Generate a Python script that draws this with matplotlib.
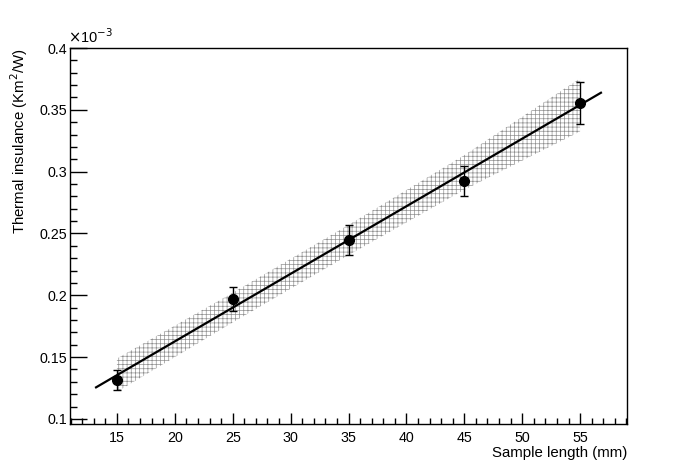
import matplotlib
matplotlib.use("Agg")
import matplotlib.pyplot as plt
import numpy as np
from matplotlib.ticker import MultipleLocator, FormatStrFormatter

plt.rcParams['font.family'] = ['Liberation Sans', 'DejaVu Sans']
plt.rcParams['hatch.linewidth'] = 0.5

# data (thermal insulance in units of 1e-3 K m^2/W)
length_mm = [15, 25, 35, 45, 55]
insulance = [0.1315, 0.1970, 0.2447, 0.2924, 0.3555]
insulance_err = [0.0077, 0.0097, 0.0125, 0.0122, 0.0166]

# linear fit
fit_intercept = 0.0534
fit_slope = 0.005465
fit_range = [13.2, 56.8]

# confidence band half-width at each sample length
band_half = [0.0135, 0.0120, 0.0122, 0.0140, 0.0215]

fig = plt.figure(figsize=(6.96, 4.72), dpi=100)
ax = fig.add_axes([70 / 696, 48 / 472, 557 / 696, 376 / 472])

xb = np.array(length_mm, dtype=float)
yb = fit_intercept + fit_slope * xb
hb = np.array(band_half)
ax.fill_between(xb, yb - hb, yb + hb, facecolor='none', edgecolor='#909090',
                linewidth=0, hatch='++++')

xf = np.array(fit_range)
ax.plot(xf, fit_intercept + fit_slope * xf, color='black', lw=1.6)

ax.errorbar(length_mm, insulance, yerr=insulance_err, fmt='o', color='black',
            markersize=7, ecolor='black', elinewidth=1, capsize=3, capthick=1)

ax.set_xlim(10.95, 59.05)
ax.set_ylim(0.0959, 0.4)

ax.xaxis.set_major_locator(MultipleLocator(5))
ax.xaxis.set_minor_locator(MultipleLocator(1))
ax.yaxis.set_major_locator(MultipleLocator(0.05))
ax.yaxis.set_minor_locator(MultipleLocator(0.01))
ax.yaxis.set_major_formatter(FormatStrFormatter('%g'))

ax.tick_params(axis='both', which='both', direction='in', top=False, right=False,
               labelsize=10.3, width=1)
ax.tick_params(axis='x', which='major', length=8, pad=5)
ax.tick_params(axis='x', which='minor', length=4)
ax.tick_params(axis='y', which='major', length=12, pad=2)
ax.tick_params(axis='y', which='minor', length=5)
for s in ax.spines.values():
    s.set_linewidth(1)

ax.set_xlabel("Sample length (mm)", fontsize=10.8, loc='right', labelpad=1)
ax.set_ylabel("Thermal insulance (Km$^2$/W)", fontsize=10.8, loc='top', labelpad=7)
ax.text(-0.003, 1.005, r"$\times$10$^{-3}$", transform=ax.transAxes, fontsize=10.5,
        ha='left', va='bottom')

fig.savefig("out.png", dpi=100)
